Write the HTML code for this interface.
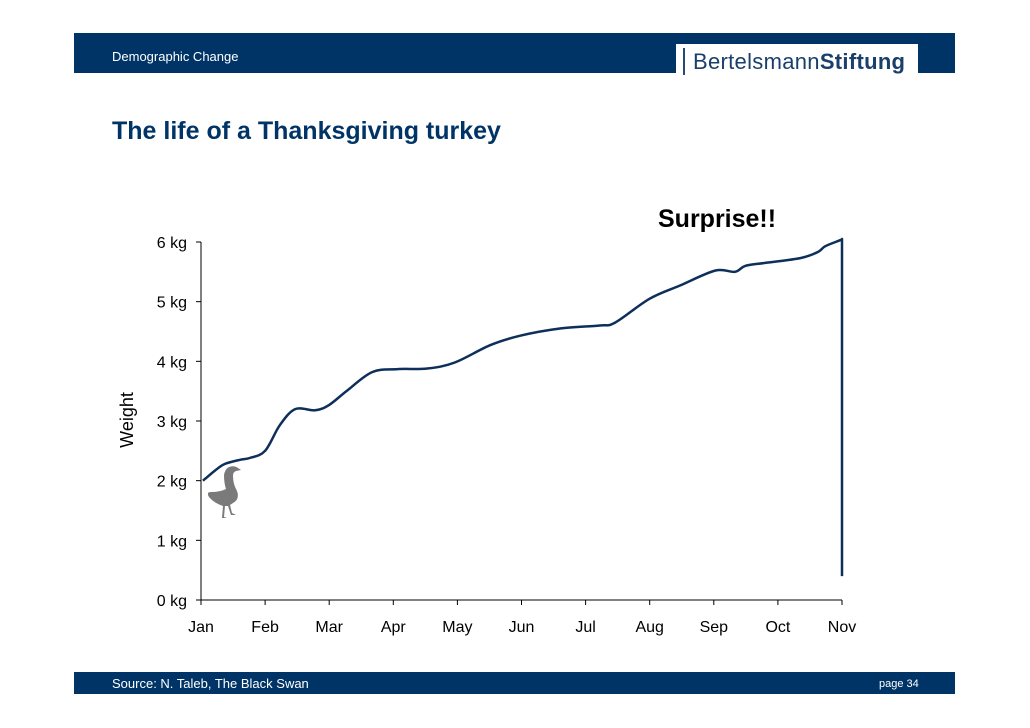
<!DOCTYPE html>
<html><head><meta charset="utf-8"><style>
body{margin:0;background:#fff;width:1030px;height:728px;overflow:hidden;font-family:"Liberation Sans",sans-serif;position:relative}
.abs{position:absolute}
</style></head><body>
<div class="abs" style="left:74px;top:33px;width:881px;height:40px;background:#003466"></div>
<div class="abs" style="left:112px;top:49px;font-size:13px;color:#fff">Demographic Change</div>
<div class="abs" style="left:676px;top:44px;width:242px;height:34px;background:#fff">
<div class="abs" style="left:7px;top:4px;width:2px;height:27px;background:#2a4a70"></div>
<div class="abs" style="left:17px;top:5px;font-size:22px;color:#1a3f6b;letter-spacing:0.3px">Bertelsmann<b>Stiftung</b></div></div>
<div class="abs" style="left:112px;top:117px;font-size:25px;font-weight:bold;color:#003466">The life of a Thanksgiving turkey</div>
<div class="abs" style="left:658px;top:205px;font-size:25px;font-weight:bold;color:#000">Surprise!!</div>
<svg class="abs" style="left:0;top:0" width="1030" height="728" id="chart">
<text x="0" y="0" transform="translate(133,420) rotate(-90)" text-anchor="middle" font-size="18" font-family="Liberation Sans">Weight</text>
<g fill="#7a7a7a">
<path d="M229,467 q5,-2 9,1 l3,2 l-5,1 q-3,1 -3,5 q0,8 4,15 q3,8 -4,12 l-3,2 l2,8 l4,2 h-5 l-3,-9 h-3 l-1,11 l3,1 h-5 l1,-12 q-9,-3 -14,-9 q-3,-5 2,-5 q9,0 15,-3 q-2,-6 -2,-14 q1,-6 5,-8z"/>
</g>
</svg>
<div class="abs" style="left:74px;top:672px;width:881px;height:22px;background:#003466"></div>
<div class="abs" style="left:112px;top:676px;font-size:13px;color:#fff">Source: N. Taleb, The Black Swan</div>
<div class="abs" style="left:879px;top:678px;font-size:11px;color:#fff">page 34</div>
<script>
const months=["Jan","Feb","Mar","Apr","May","Jun","Jul","Aug","Sep","Oct","Nov"];
const yTicks=[0,1,2,3,4,5,6];
const t=[0.03,0.22,0.37,0.61,0.76,1.0,1.23,1.47,1.78,2.0,2.28,2.67,3.07,3.53,3.96,4.51,4.98,5.6,6.22,6.46,7.0,7.47,8.02,8.33,8.49,8.8,9.35,9.62,9.74,9.97,10.0];
const kg=[2.0,2.17,2.28,2.35,2.38,2.5,2.93,3.2,3.18,3.27,3.51,3.82,3.87,3.88,3.98,4.27,4.43,4.55,4.6,4.65,5.05,5.27,5.52,5.5,5.6,5.65,5.73,5.83,5.93,6.03,6.05];
const dropKg=0.4;
const svg=document.getElementById('chart');
const NS='http://www.w3.org/2000/svg';
const x0=201,x1=842,y0=600,yTop=242;
const X=m=>x0+m*(x1-x0)/(months.length-1);
const Y=v=>y0-v*(y0-yTop)/6;
function mk(tag,a){const e=document.createElementNS(NS,tag);for(const k in a)e.setAttribute(k,a[k]);svg.appendChild(e);return e;}
const ya=mk('line',{x1:x0,y1:Y(6),x2:x0,y2:y0,stroke:'#000','stroke-width':1});


const xa=mk('line',{x1:x0,y1:y0,x2:x1,y2:y0,stroke:'#000','stroke-width':1});


yTicks.forEach(v=>{
 mk('line',{x1:x0-5,y1:Y(v),x2:x0,y2:Y(v),stroke:'#000'});
 const tx=mk('text',{x:x0-14,y:Y(v)+6,'text-anchor':'end','font-size':16,'font-family':'Liberation Sans'});
 tx.textContent=v+' kg';
 
 
});
months.forEach((m,i)=>{
 mk('line',{x1:X(i),y1:y0,x2:X(i),y2:y0+5,stroke:'#000'});
 const tx=mk('text',{x:X(i),y:y0+32,'text-anchor':'middle','font-size':16,'font-family':'Liberation Sans'});
 tx.textContent=m;
 
 
});
const P=t.map((m,i)=>[X(m),Y(kg[i])]);
let d='M'+P[0][0].toFixed(1)+','+P[0][1].toFixed(1);
for(let i=0;i<P.length-1;i++){
 const p0=P[Math.max(0,i-1)],p1=P[i],p2=P[i+1],p3=P[Math.min(P.length-1,i+2)];
 const c1=[p1[0]+(p2[0]-p0[0])/6,p1[1]+(p2[1]-p0[1])/6];
 const c2=[p2[0]-(p3[0]-p1[0])/6,p2[1]-(p3[1]-p1[1])/6];
 d+='C'+c1[0].toFixed(1)+','+c1[1].toFixed(1)+' '+c2[0].toFixed(1)+','+c2[1].toFixed(1)+' '+p2[0].toFixed(1)+','+p2[1].toFixed(1);
}
d+='L'+X(t[t.length-1]).toFixed(1)+','+Y(dropKg).toFixed(1);
const p=mk('path',{d:d,fill:'none',stroke:'#0d2f5a','stroke-width':2.5,'stroke-linejoin':'round'});


</script>
</body></html>
